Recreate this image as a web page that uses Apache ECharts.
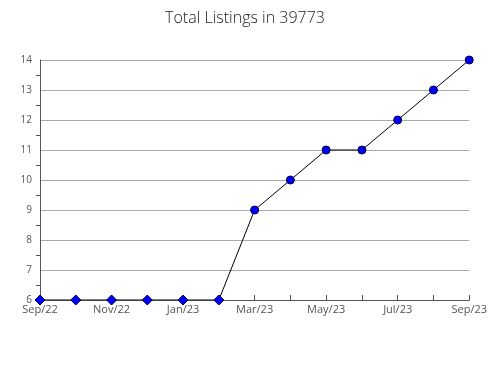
<!DOCTYPE html>
<html><head><meta charset="utf-8">
<script src="https://cdn.jsdelivr.net/npm/echarts@6/dist/echarts.min.js"></script>
<style>html,body{margin:0;padding:0;background:#fff}#c{width:490px;height:380px}</style>
</head><body><div id="c"></div>
<script>
var months = ['Sep/22','Oct/22','Nov/22','Dec/22','Jan/23','Feb/23','Mar/23','Apr/23','May/23','Jun/23','Jul/23','Aug/23','Sep/23'];
var listings = [6,6,6,6,6,6,9,10,11,11,12,13,14];
var yTicks = [6,7,8,9,10,11,12,13,14];

var chart = echarts.init(document.getElementById('c'));
chart.setOption({
  animation: false,
  title: {text: 'Total Listings in 39773', left: 'center', top: 5,
    textStyle: {fontFamily: 'Open Sans', fontWeight: 300, fontSize: 16, color: '#222'}},
  grid: {left: 40, right: 18, top: 60, bottom: 80},
  xAxis: {
    type: 'category', data: months, boundaryGap: false,
    axisLine: {lineStyle: {color: '#555'}},
    axisTick: {inside: true, interval: 0, length: 5, lineStyle: {color: '#555'}},
    axisLabel: {interval: 1, fontFamily: 'Open Sans', fontSize: 11, color: '#555', margin: 4},
    splitLine: {show: false}
  },
  yAxis: {
    type: 'value', min: yTicks[0], max: yTicks[yTicks.length-1], interval: 1,
    axisLine: {show: true, lineStyle: {color: '#555'}},
    axisTick: {show: false},
    minorTick: {show: true, splitNumber: 2, length: 4, lineStyle: {color: '#555'}},
    axisLabel: {fontFamily: 'Open Sans', fontSize: 10, color: '#555', margin: 8},
    splitLine: {lineStyle: {color: '#aaa'}}
  },
  series: [{
    type: 'line', data: listings,
    symbol: function (v) { return v === yTicks[0] ? 'diamond' : 'circle'; },
    symbolSize: function (v) { return v === yTicks[0] ? 10 : 8; },
    lineStyle: {color: '#000', width: 1},
    itemStyle: {color: '#0000ff', borderColor: '#000033', borderWidth: 1}
  }]
});
</script></body></html>
